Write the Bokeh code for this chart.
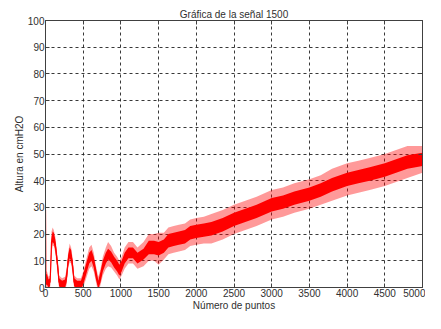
from bokeh.plotting import figure
from bokeh.models import FixedTicker, LinearAxis
from bokeh.embed import file_html
from bokeh.resources import INLINE

titulo = "Gráfica de la señal 1500"
etiqueta_x = "Número de puntos"
etiqueta_y = "Altura en cmH2O"

x_ticks = [0, 500, 1000, 1500, 2000, 2500, 3000, 3500, 4000, 4500, 5000]
y_ticks = [0, 10, 20, 30, 40, 50, 60, 70, 80, 90, 100]

muestras = [0, 5, 20, 40, 60, 70, 80, 95, 110, 130,
            150, 165, 180, 220, 260, 280, 300, 320, 340, 360,
            380, 420, 470, 500, 540, 580, 610, 640, 670, 700,
            730, 760, 800, 830, 870, 910, 950, 980, 1010, 1050,
            1100, 1160, 1220, 1300, 1370, 1440, 1500, 1570, 1630, 1700,
            1770, 1850, 1920, 2000, 2100, 2200, 2350, 2500, 2650, 2800,
            3000, 3150, 3300, 3500, 3650, 3800, 4000, 4150, 4300, 4500,
            4650, 4800, 5000]
centro = [29, 3, 3, 1.5, 2, 8, 17, 19, 18.5, 16,
          11, 7, 2, 1, 1.5, 4, 10, 13, 12, 8,
          2, 1, 1, 3, 7, 11, 12, 9.5, 5, 1,
          4, 8, 11, 12.5, 11.5, 9.5, 8, 6.5, 8, 11,
          13, 13, 11, 12.5, 15, 15, 14.5, 15.5, 17.5, 18,
          18.5, 19, 20.5, 21, 21.5, 22, 23.5, 25.5, 27, 28.5,
          31, 32, 33.5, 35, 36.5, 38.5, 40.5, 41.5, 42.5, 44,
          45.5, 47, 48]
banda = [1, 2, 2, 1.5, 1.5, 2, 2, 2, 2, 2,
         2, 2, 1.5, 1.5, 1.5, 2, 2, 2, 2, 2,
         1.5, 1.5, 1.5, 2, 2, 2, 2, 2, 2, 1.5,
         2, 2, 2, 2, 2, 2, 2, 2, 2, 2,
         2, 2, 2, 2, 2.5, 2.5, 2.5, 2.5, 2.5, 2.5,
         2.5, 2.5, 2.5, 2.5, 2.5, 2.5, 2.5, 2.5, 2.5, 2.5,
         2.5, 2.5, 2.5, 2.5, 2.5, 2.5, 2.5, 2.5, 2.5, 2.5,
         2.5, 2.5, 2.5]
pico = [1, 3, 3, 2.5, 2.5, 3, 4, 3.5, 3, 3,
        3, 3, 2.5, 2.5, 2.5, 3, 3, 3.5, 3, 3,
        2.5, 2.5, 2.5, 3, 3.5, 4, 4, 3.5, 3, 3,
        3, 3.5, 4, 4.5, 4, 3.5, 3.5, 3.5, 3.5, 4,
        4, 4, 4, 4.5, 5, 5, 6, 5, 5, 5,
        5, 5, 5, 5, 5, 5.5, 5.5, 5.5, 5.5, 5.5,
        5.5, 5.5, 5.5, 5.5, 5.5, 6, 6, 6, 6, 6,
        6, 6, 5]

FONT = "Liberation Sans"
TXT = "#303030"

p = figure(width=425, height=313, x_range=(0, 5000), y_range=(0, 100),
           output_backend="svg", toolbar_location=None,
           min_border_left=45, min_border_right=3, min_border_top=20, min_border_bottom=20)
p.title.text = titulo
p.title.align = "center"
p.title.text_font = FONT
p.title.text_font_size = "10px"
p.title.text_font_style = "normal"
p.title.text_color = TXT
p.title.standoff = 2
p.title.offset = 0

p.varea(x=muestras, y1=[c - k for c, k in zip(centro, pico)],
        y2=[c + k for c, k in zip(centro, pico)], fill_color="#ff0000", fill_alpha=0.4)
p.varea(x=muestras, y1=[c - k for c, k in zip(centro, banda)],
        y2=[c + k for c, k in zip(centro, banda)], fill_color="#ff0000", fill_alpha=1.0)
p.line(x=muestras, y=centro, line_color="#ff0000", line_width=1.2)

for ax in (p.xaxis[0], p.yaxis[0]):
    ax.major_label_text_font = FONT
    ax.major_label_text_font_size = "10px"
    ax.major_label_text_color = TXT
    ax.axis_label_text_font = FONT
    ax.axis_label_text_font_size = "10px"
    ax.axis_label_text_font_style = "normal"
    ax.axis_label_text_color = TXT
    ax.axis_line_color = "#404040"
    ax.major_tick_line_color = "#404040"
    ax.major_tick_in = 4
    ax.major_tick_out = 0
    ax.minor_tick_line_color = None
    ax.axis_label_standoff = 0
    ax.major_label_standoff = 1

p.xaxis.ticker = FixedTicker(ticks=x_ticks)
p.yaxis.ticker = FixedTicker(ticks=y_ticks)
p.xaxis.axis_label = etiqueta_x
p.yaxis.axis_label = etiqueta_y

for side, tick in (("above", x_ticks), ("right", y_ticks)):
    ax = LinearAxis(ticker=FixedTicker(ticks=tick), major_label_text_font_size="0px",
                    axis_line_color="#404040", major_tick_line_color="#404040",
                    major_tick_in=4, major_tick_out=0, minor_tick_line_color=None,
                    major_label_standoff=0)
    ax.major_label_overrides = {t: "" for t in tick}
    p.add_layout(ax, side)

p.xgrid.grid_line_color = "#222222"
p.ygrid.grid_line_color = "#222222"
p.xgrid.grid_line_dash = "3 3"
p.ygrid.grid_line_dash = "3 3"
p.xgrid.grid_line_alpha = 0.9
p.ygrid.grid_line_alpha = 0.9
p.outline_line_color = "#404040"
p.background_fill_color = "white"
p.border_fill_color = "white"

open("out.html", "w").write(file_html(p, INLINE))
